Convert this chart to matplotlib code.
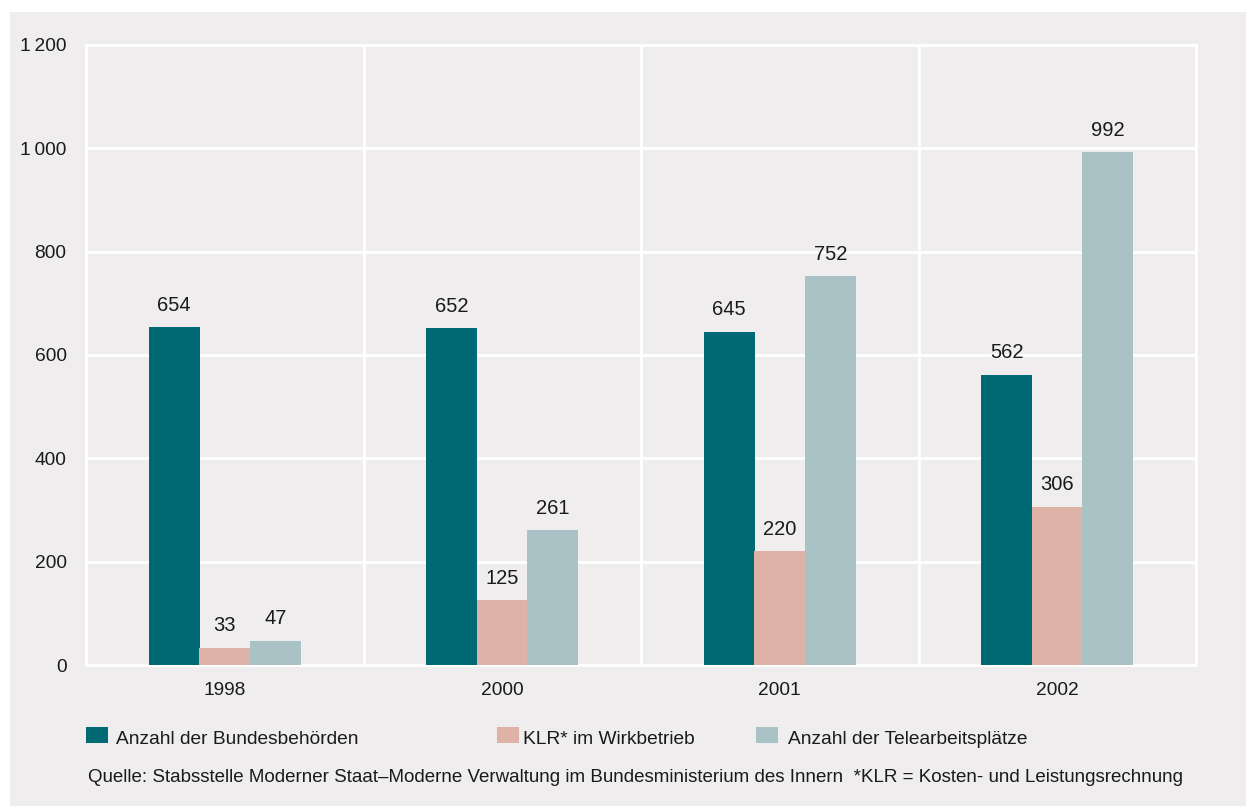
import matplotlib
matplotlib.use('Agg')

import matplotlib.pyplot as plt
import numpy as np
from matplotlib.patches import Rectangle
from matplotlib.ticker import FuncFormatter

plt.rcParams['font.family'] = ['Liberation Sans', 'DejaVu Sans']

years = ['1998', '2000', '2001', '2002']
behoerden = [654, 652, 645, 562]
klr = [33, 125, 220, 306]
telearbeit = [47, 261, 752, 992]
series_names = ['Anzahl der Bundesbehörden', 'KLR* im Wirkbetrieb', 'Anzahl der Telearbeitsplätze']
colors = ['#006a74', '#dfb2a7', '#a8c2c6']
source = ('Quelle: Stabsstelle Moderner Staat\u2013Moderne Verwaltung im Bundesministerium des Innern  '
          '*KLR = Kosten- und Leistungsrechnung')

bg = '#efedee'
txt = '#1a1a1a'
fs = 13.8
W, H = 1246, 806

fig = plt.figure(figsize=(W / 100, H / 100), dpi=100, facecolor='white')
# grey panel behind everything
fig.patches.append(Rectangle((10 / W, 0), 1 - 10 / W, 1 - 12 / H, transform=fig.transFigure,
                             facecolor=bg, edgecolor='none', zorder=-10))

ax = fig.add_axes([86 / W, 1 - 665 / H, (1196 - 86) / W, (665 - 45) / H])
ax.set_facecolor(bg)

x = np.arange(len(years))
width = 0.185
offsets = [-0.182, 0.0, 0.182]
for data, off, c in zip([behoerden, klr, telearbeit], offsets, colors):
    bars = ax.bar(x + off, data, width, color=c, zorder=3)
    for b, v in zip(bars, data):
        ax.annotate(str(v), (b.get_x() + b.get_width() / 2, v), xytext=(0, 9),
                    textcoords='offset points', ha='center', va='bottom', fontsize=14.5, color=txt)

ax.set_xlim(-0.5, len(years) - 0.5)
ax.set_ylim(0, 1200)
ax.set_yticks(range(0, 1201, 200))
ax.yaxis.set_major_formatter(FuncFormatter(lambda v, p: f'{int(v):,}'.replace(',', '\u2009')))
ax.set_xticks(x)
ax.set_xticklabels(years)
ax.tick_params(axis='both', length=0, labelsize=fs, colors=txt)
ax.tick_params(axis='y', pad=14)
ax.tick_params(axis='x', pad=12)

ax.yaxis.grid(True, color='white', linewidth=2.0, zorder=1)
for sep in np.arange(0.5, len(years) - 0.5, 1):
    ax.axvline(sep, color='white', linewidth=2.0, zorder=1)
for s in ax.spines.values():
    s.set_color('white')
    s.set_linewidth(2.0)
ax.set_axisbelow(True)

# legend row
leg_pos = [(86, 116), (497, 523), (756, 788)]
for (sx, tx), name, c in zip(leg_pos, series_names, colors):
    fig.patches.append(Rectangle((sx / W, 1 - 743 / H), 22 / W, 16 / H, transform=fig.transFigure,
                                 facecolor=c, edgecolor='none'))
    fig.text(tx / W, 1 - 739 / H, name, ha='left', va='center', fontsize=fs, color=txt)

fig.text(88 / W, 1 - 777 / H, source, ha='left', va='center', fontsize=13.5, color=txt)

fig.savefig('out.png', dpi=100, facecolor='white')
